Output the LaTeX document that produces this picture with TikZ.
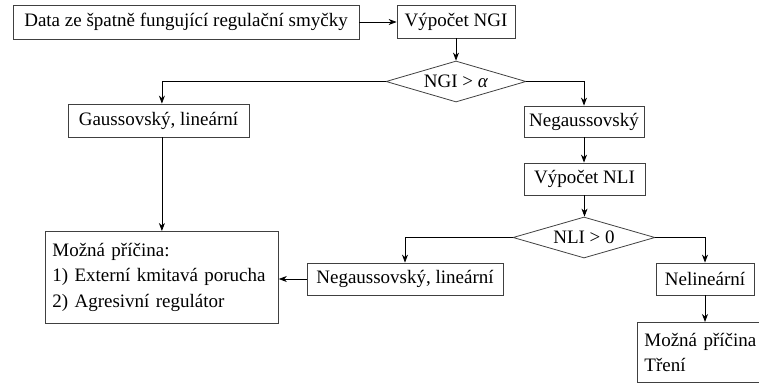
\documentclass[tikz,border=0pt]{standalone}
\usepackage{fontspec}
\setmainfont{Liberation Serif}
\usetikzlibrary{arrows.meta,shapes.geometric,calc}
\begin{document}
\begin{tikzpicture}[x=1pt,y=-1pt,
  font=\fontsize{19}{25.5}\selectfont,
  box/.style={draw=black!75, line width=0.8pt, rectangle, inner sep=0pt},
  lbox/.style={draw=black!75, line width=0.8pt, rectangle, inner xsep=7pt, inner ysep=0pt, align=left, anchor=north west},
  dia/.style={draw=black!75, line width=0.8pt, diamond, inner sep=0pt, aspect=3.4},
  arr/.style={draw=black, line width=0.8pt, -{Stealth[length=8pt,width=6pt,inset=2.5pt]}}]
\useasboundingbox (0,0) rectangle (759,385);
\clip (0,0) rectangle (759,385);
\node[box, minimum width=346pt, minimum height=34pt] (data) at (186,22) {Data ze špatně fungující regulační smyčky};
\node[box, minimum width=118pt, minimum height=33pt] (ngi) at (456,21.5) {Výpočet NGI};
\node[dia, minimum width=140pt, minimum height=41pt] (d1) at (456,81.5) {NGI > \textit{α}};
\node[box, minimum width=181pt, minimum height=33pt] (gauss) at (158.5,120.5) {Gaussovský, lineární};
\node[box, minimum width=120pt, minimum height=31pt] (neg) at (584,121.5) {Negaussovský};
\node[box, minimum width=121pt, minimum height=32pt] (nli) at (584.5,179) {Výpočet NLI};
\node[dia, minimum width=142pt, minimum height=41pt] (d2) at (584,237.5) {NLI > 0};
\node[box, minimum width=196pt, minimum height=32pt] (neglin) at (405,279) {Negaussovský, lineární};
\node[box, minimum width=98pt, minimum height=32pt] (nelin) at (705,279) {Nelineární};
\node[lbox, text width=219pt, minimum height=92pt] (mozna) at (45,231) {Možná příčina:\\1) Externí kmitavá porucha\\2) Agresivní regulátor};
\node[lbox, text width=136pt, minimum height=60pt] (mozna2) at (637,322) {Možná příčina\\Tření};
\draw[arr] (data.east) -- (data.east -| ngi.west);
\draw[arr] (ngi.south) -- (d1.north);
\draw[arr] (d1.west) -| (gauss.north -| mozna.north);
\draw[arr] (gauss.south -| mozna.north) -- (mozna.north);
\draw[arr] (d1.east) -| (neg.north);
\draw[arr] (neg.south) -- (neg.south |- nli.north);
\draw[arr] (nli.south) -- (nli.south |- d2.north);
\draw[arr] (d2.west) -| (neglin.north);
\draw[arr] (d2.east) -| (nelin.north);
\draw[arr] (nelin.south) -- (nelin.south |- mozna2.north);
\draw[arr] (neglin.west) -- (neglin.west -| mozna.east);
\end{tikzpicture}
\end{document}
